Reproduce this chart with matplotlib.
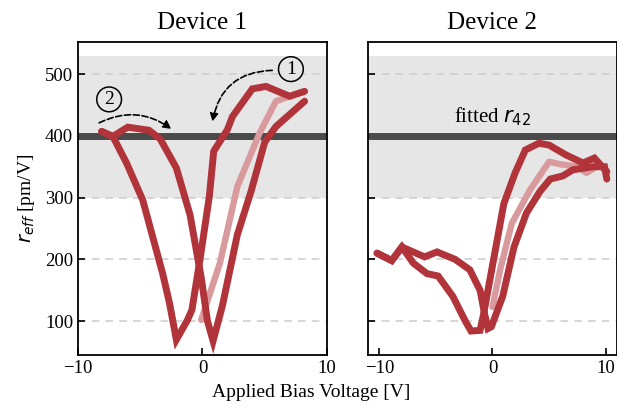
import matplotlib
matplotlib.use('Agg')
import matplotlib.pyplot as plt

# Device 1: first sweep (0 -> +8), then down (+8 -> -8), then up (-8 -> +8)
d1_init_v = [-0.1, 1.4, 2.8, 4.6, 5.9, 7.0]
d1_init_r = [102, 194, 318, 405, 456, 464]
d1_down_v = [8.2, 7.0, 5.1, 4.0, 2.4, 2.0, 0.9, 0.55, -0.2, -0.85, -1.2, -2.1,
             -2.65, -3.2, -4.8, -6.1, -7.2, -8.1]
d1_down_r = [472, 464, 480, 476, 431, 410, 375, 302, 200, 118, 102, 70,
             129, 177, 296, 356, 399, 407]
d1_up_v = [-8.1, -7.2, -6.0, -4.3, -3.4, -2.1, -1.0, -0.1, 0.4, 0.85, 1.6,
           2.8, 3.9, 5.0, 5.9, 8.2]
d1_up_r = [407, 399, 414, 409, 395, 348, 272, 170, 100, 68, 125,
           240, 310, 390, 415, 456]

# Device 2
d2_init_v = [0.0, 0.7, 1.7, 3.3, 5.0, 6.0, 7.5, 8.3, 9.2]
d2_init_r = [123, 185, 258, 312, 358, 354, 350, 340, 350]
d2_down_v = [10.1, 9.0, 8.0, 6.5, 5.0, 4.1, 2.9, 2.0, 1.0, 0.3, -0.3, -0.8,
             -1.1, -1.9, -2.4, -3.5, -4.8, -5.8, -7.0, -8.0, -8.9, -10.2]
d2_down_r = [342, 364, 356, 369, 385, 388, 377, 340, 290, 220, 160, 110,
             85, 84, 100, 140, 173, 177, 194, 220, 198, 210]
d2_up_v = [-10.2, -8.9, -8.0, -7.0, -6.0, -4.9, -3.3, -2.0, -1.1, -0.7, -0.4,
           -0.1, 0.9, 1.9, 3.0, 4.2, 5.1, 6.2, 7.1, 8.9, 9.9, 10.1]
d2_up_r = [210, 198, 220, 212, 204, 212, 200, 183, 150, 112, 88,
           91, 140, 220, 275, 310, 330, 335, 345, 350, 350, 330]

r42_fit = 400
band_lo, band_hi = 300, 530

dark = '#b0343a'
light = '#d89a9c'

plt.rcParams['font.family'] = 'Liberation Serif'
plt.rcParams['mathtext.fontset'] = 'dejavusans'

fig = plt.figure(figsize=(6.17, 4.11), dpi=100)
ax1 = fig.add_axes([0.1264, 0.136, 0.4036, 0.762])
ax2 = fig.add_axes([0.5964, 0.136, 0.4036, 0.762], sharey=ax1)


def draw(ax, init, down, up, xlim):
    ax.axhspan(band_lo, band_hi, color='#e6e6e6', zorder=0, lw=0)
    for yy in [100, 200, 300, 400, 500]:
        ax.axhline(yy, color='#cccccc', ls=(0, (5, 4)), lw=1.1, zorder=1)
    ax.axhline(r42_fit, color='#4a4a4a', lw=5, zorder=2)
    ax.plot(init[0], init[1], color=light, lw=4.6, zorder=3,
            solid_joinstyle='round', solid_capstyle='round')
    for v, r in (down, up):
        ax.plot(v, r, color=dark, lw=5, zorder=4,
                solid_joinstyle='miter', solid_capstyle='round')
    ax.set_xlim(*xlim)
    ax.set_xticks([-10, 0, 10])
    ax.tick_params(direction='in', labelsize=13.5, length=5, width=1.2)
    for s in ax.spines.values():
        s.set_linewidth(1.3)


draw(ax1, (d1_init_v, d1_init_r), (d1_down_v, d1_down_r),
     (d1_up_v, d1_up_r), (-10, 10))
draw(ax2, (d2_init_v, d2_init_r), (d2_down_v, d2_down_r),
     (d2_up_v, d2_up_r), (-11, 11))

ax1.set_ylim(45, 552)
ax1.set_yticks([100, 200, 300, 400, 500])
ax2.tick_params(labelleft=False)

ax1.set_title('Device 1', fontsize=18, pad=9)
ax2.set_title('Device 2', fontsize=18, pad=9)
ax1.set_ylabel(r'$r_{eff}$ [pm/V]', fontsize=14, labelpad=6)
fig.text(0.505, 0.035, 'Applied Bias Voltage [V]', ha='center', fontsize=14)

ax2.text(0, 413, r'fitted $r_{42}$', ha='center', va='bottom', fontsize=15)

# sweep direction markers
circ = dict(boxstyle='circle,pad=0.2', fc='#e6e6e6', ec='black', lw=1.1)
ax1.text(7.1, 508, '1', ha='center', va='center', fontsize=14, bbox=circ,
         zorder=6)
ax1.text(-7.5, 459, '2', ha='center', va='center', fontsize=14, bbox=circ,
         zorder=6)
arr = dict(arrowstyle='-|>', ls='--', lw=1.2, color='black',
           mutation_scale=12, shrinkA=0, shrinkB=0)
ax1.annotate('', xy=(0.8, 423), xytext=(5.6, 506),
             arrowprops=dict(arr, connectionstyle='arc3,rad=0.4'), zorder=6)
ax1.annotate('', xy=(-2.5, 411), xytext=(-8.3, 421),
             arrowprops=dict(arr, connectionstyle='arc3,rad=-0.3'), zorder=6)

fig.savefig('out.png', dpi=100)
